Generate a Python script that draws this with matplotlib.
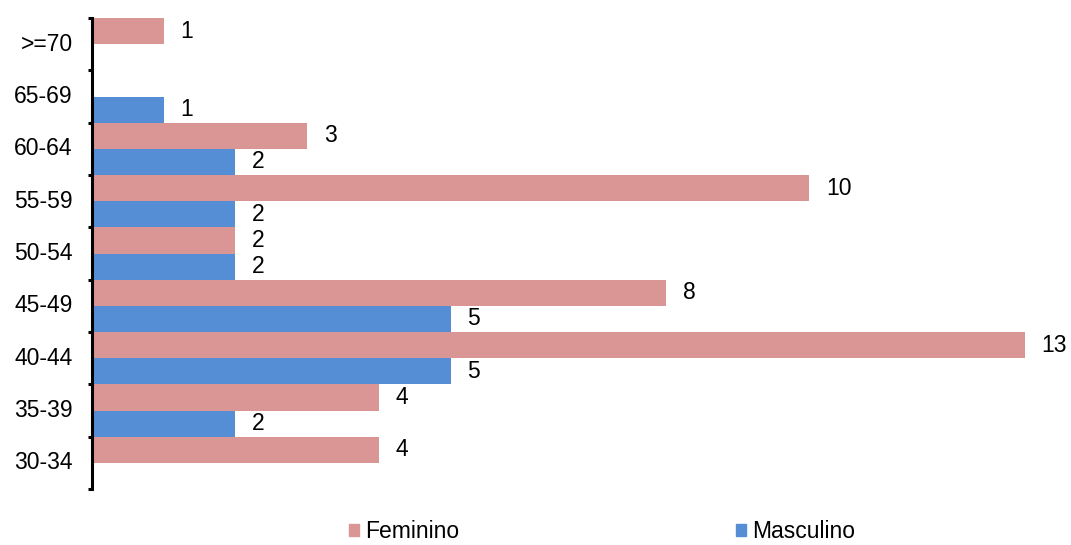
import numpy as np
import matplotlib.pyplot as plt
from matplotlib.patches import Patch

# ==========================================
# DATA
# ==========================================

age_groups = ["30-34", "35-39", "40-44", "45-49", "50-54",
              "55-59", "60-64", "65-69", ">=70"]
feminino = [4, 4, 13, 8, 2, 10, 3, 0, 1]
masculino = [0, 2, 5, 5, 2, 2, 2, 1, 0]

pink = "#D99694"
blue = "#558ED5"

plt.rcParams["font.family"] = ["Liberation Sans", "DejaVu Sans"]
fs = 16.5

# ==========================================
# PLOT
# ==========================================

fig = plt.figure(figsize=(10.71, 5.45), dpi=100)
ax = fig.add_axes([92 / 1071, 56 / 545, 972 / 1071, 471 / 545])

y = np.arange(len(age_groups))
h = 0.5

bars_f = ax.barh(y + h / 2, feminino, height=h, color=pink)
bars_m = ax.barh(y - h / 2, masculino, height=h, color=blue)

# value labels (skip zeros)
for bars, vals in [(bars_f, feminino), (bars_m, masculino)]:
    for b, v in zip(bars, vals):
        if v == 0:
            continue
        ax.annotate(str(v), (b.get_width(), b.get_y() + b.get_height() / 2),
                    xytext=(12, 0), textcoords="offset points",
                    ha="left", va="center", fontsize=fs)

ax.set_xlim(0, 13.55)
ax.set_ylim(-0.5, len(age_groups) - 0.5)

# boundaries as major ticks, labels at centres as minor ticks
ax.set_yticks(np.arange(-0.5, len(age_groups), 1.0))
ax.set_yticklabels([])
ax.set_yticks(y, minor=True)
ax.set_yticklabels(age_groups, minor=True, fontsize=fs, va="center")
ax.tick_params(axis="y", which="major", length=3, width=2.2, direction="out")
ax.tick_params(axis="y", which="minor", length=0, pad=14)

ax.set_xticks([])
for s in ["top", "right", "bottom"]:
    ax.spines[s].set_visible(False)
ax.spines["left"].set_linewidth(2.2)

# legend
handles = [Patch(color=pink, label="Feminino"),
           Patch(color=blue, label="Masculino")]
fig.legend(handles=handles, loc="lower center", ncol=2, frameon=False,
           bbox_to_anchor=(0.562, -0.034), fontsize=fs,
           handlelength=0.45, handleheight=0.45, handletextpad=0.25,
           columnspacing=12.1)

fig.savefig("out.png", dpi=100)
